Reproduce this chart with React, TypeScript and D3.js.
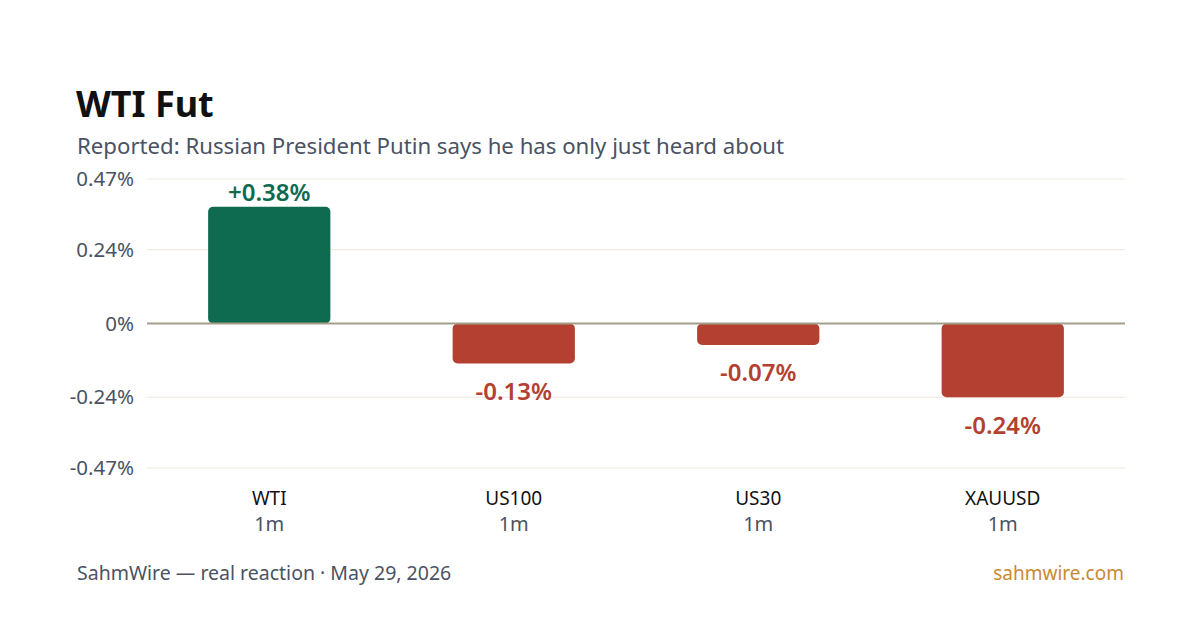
import { useEffect, useRef } from "react"
import * as d3 from "d3"

const symbols = ["WTI", "US100", "US30", "XAUUSD"]
const windows = ["1m", "1m", "1m", "1m"]
const moves = [0.38, -0.13, -0.07, -0.24]
const tickValues = [0.47, 0.24, 0, -0.24, -0.47]

const FONT = "'Noto Sans', 'Open Sans', sans-serif"
const UP = "#0f6b4f"
const DOWN = "#b34030"

export default function App() {
  const svgRef = useRef<SVGSVGElement>(null)

  useEffect(() => {
    if (!svgRef.current) return
    const svg = d3.select(svgRef.current)
    svg.selectAll("*").remove()

    const width = 1200
    const height = 630
    const margin = { top: 179, right: 75, bottom: 162, left: 147 }

    svg.append("rect").attr("width", width).attr("height", height).attr("fill", "#ffffff")

    const x = d3
      .scaleBand()
      .domain(symbols)
      .range([margin.left, width - margin.right])
      .paddingInner(0.5)
      .paddingOuter(0.25)

    const y = d3.scaleLinear().domain([-0.47, 0.47]).range([height - margin.bottom, margin.top])

    // title block
    svg
      .append("text")
      .attr("x", 76)
      .attr("y", 117)
      .attr("font-family", FONT)
      .attr("font-size", 36)
      .attr("font-weight", 700)
      .attr("fill", "#111111")
      .text("WTI Fut")

    svg
      .append("text")
      .attr("x", 77)
      .attr("y", 154)
      .attr("font-family", FONT)
      .attr("font-size", 22.2)
      .attr("fill", "#4a5263")
      .text("Reported: Russian President Putin says he has only just heard about")

    // grid + y ticks
    const grid = svg.append("g")
    grid
      .selectAll("line")
      .data(tickValues.filter((t) => t !== 0))
      .join("line")
      .attr("x1", margin.left)
      .attr("x2", width - margin.right)
      .attr("y1", (d) => y(d))
      .attr("y2", (d) => y(d))
      .attr("stroke", "#eee9dd")
      .attr("stroke-width", 1)

    svg
      .append("g")
      .selectAll("text")
      .data(tickValues)
      .join("text")
      .attr("x", 134)
      .attr("y", (d) => y(d))
      .attr("dy", "0.35em")
      .attr("text-anchor", "end")
      .attr("font-family", FONT)
      .attr("font-size", 20.5)
      .attr("fill", "#4a5263")
      .text((d) => (d === 0 ? "0%" : `${d.toFixed(2)}%`))

    // bars
    const data = symbols.map((s, i) => ({ symbol: s, win: windows[i], value: moves[i] }))

    svg
      .append("g")
      .selectAll("rect")
      .data(data)
      .join("rect")
      .attr("x", (d) => x(d.symbol) || 0)
      .attr("width", x.bandwidth())
      .attr("y", (d) => y(Math.max(0, d.value)))
      .attr("height", (d) => Math.abs(y(d.value) - y(0)))
      .attr("rx", 5)
      .attr("fill", (d) => (d.value >= 0 ? UP : DOWN))

    // zero line
    svg
      .append("line")
      .attr("x1", margin.left)
      .attr("x2", width - margin.right)
      .attr("y1", y(0))
      .attr("y2", y(0))
      .attr("stroke", "#a39d8a")
      .attr("stroke-width", 2)

    // value labels
    svg
      .append("g")
      .selectAll("text")
      .data(data)
      .join("text")
      .attr("x", (d) => (x(d.symbol) || 0) + x.bandwidth() / 2)
      .attr("y", (d) => (d.value >= 0 ? y(d.value) - 14 : y(d.value) + 28))
      .attr("dy", "0.35em")
      .attr("text-anchor", "middle")
      .attr("font-family", FONT)
      .attr("font-size", 24)
      .attr("font-weight", 600)
      .attr("fill", (d) => (d.value >= 0 ? UP : DOWN))
      .text((d) => `${d.value >= 0 ? "+" : ""}${d.value.toFixed(2)}%`)

    // category labels
    const cats = svg.append("g").selectAll("g").data(data).join("g")
    cats
      .append("text")
      .attr("x", (d) => (x(d.symbol) || 0) + x.bandwidth() / 2)
      .attr("y", 498)
      .attr("dy", "0.35em")
      .attr("text-anchor", "middle")
      .attr("font-family", FONT)
      .attr("font-size", 19)
      .attr("fill", "#111111")
      .text((d) => d.symbol)
    cats
      .append("text")
      .attr("x", (d) => (x(d.symbol) || 0) + x.bandwidth() / 2)
      .attr("y", 524)
      .attr("dy", "0.35em")
      .attr("text-anchor", "middle")
      .attr("font-family", FONT)
      .attr("font-size", 20)
      .attr("fill", "#4a5263")
      .text((d) => d.win)

    // footer
    svg
      .append("text")
      .attr("x", 77)
      .attr("y", 573)
      .attr("dy", "0.35em")
      .attr("font-family", FONT)
      .attr("font-size", 19.5)
      .attr("fill", "#4a5263")
      .text("SahmWire — real reaction · May 29, 2026")

    svg
      .append("text")
      .attr("x", 1124)
      .attr("y", 573)
      .attr("dy", "0.35em")
      .attr("text-anchor", "end")
      .attr("font-family", FONT)
      .attr("font-size", 19)
      .attr("fill", "#c98a32")
      .text("sahmwire.com")
  }, [])

  return (
    <svg
      ref={svgRef}
      width={1200}
      height={630}
      style={{ position: "absolute", left: 0, top: 0, display: "block" }}
    />
  )
}
